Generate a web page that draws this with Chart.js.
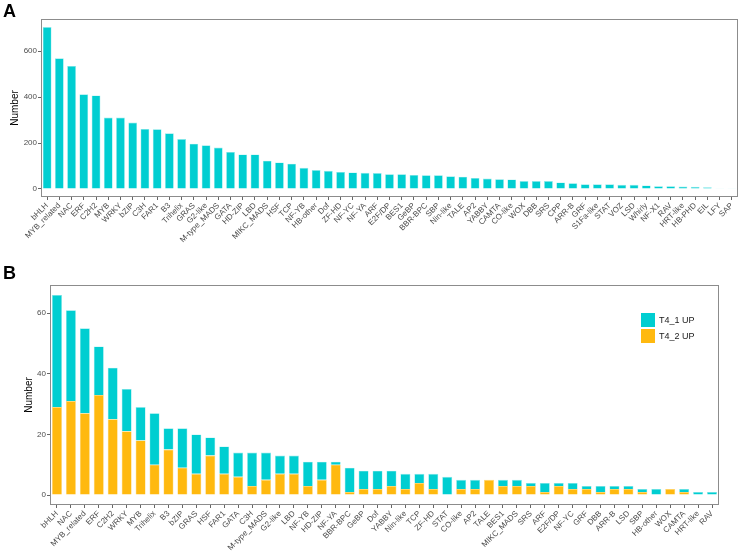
<!DOCTYPE html>
<html>
<head>
<meta charset="utf-8">
<script src="https://cdn.jsdelivr.net/npm/chart.js@4"></script>
<style>
  html, body { margin: 0; padding: 0; background: #fff; }
  #wrap { position: relative; width: 740px; height: 554px; overflow: hidden; }
  .panel { position: absolute; left: 0; width: 740px; }
  .tag { position: absolute; left: 3px; font: bold 18px 'Liberation Sans', Arial, sans-serif; line-height: 18px; color: #000; z-index: 2; }
</style>
</head>
<body>
<div id="wrap">
  <div class="panel" style="top:0;height:262px"><canvas id="chartA"></canvas></div>
  <div class="panel" style="top:262px;height:292px"><canvas id="chartB"></canvas></div>
  <div class="tag" style="top:2px">A</div>
  <div class="tag" style="top:264px">B</div>
</div>
<script>
// Panel A : nombre de membres par famille
const familiesA = ['bHLH', 'MYB_related', 'NAC', 'ERF', 'C2H2', 'MYB', 'WRKY', 'bZIP', 'C3H', 'FAR1',
  'B3', 'Trihelix', 'GRAS', 'G2-like', 'M-type_MADS', 'GATA', 'HD-ZIP', 'LBD', 'MIKC_MADS', 'HSF',
  'TCP', 'NF-YB', 'HB-other', 'Dof', 'ZF-HD', 'NF-YC', 'NF-YA', 'ARF', 'E2F/DP', 'BES1',
  'GeBP', 'BBR-BPC', 'SBP', 'Nin-like', 'TALE', 'AP2', 'YABBY', 'CAMTA', 'CO-like', 'WOX',
  'DBB', 'SRS', 'CPP', 'ARR-B', 'GRF', 'S1Fa-like', 'STAT', 'VOZ', 'LSD', 'Whirly',
  'NF-X1', 'RAV', 'HRT-like', 'HB-PHD', 'EIL', 'LFY', 'SAP'];
const countsA = [705, 569, 536, 412, 407, 311, 311, 289, 261, 260,
  242, 217, 197, 190, 180, 161, 150, 150, 123, 115,
  110, 92, 82, 79, 74, 72, 70, 69, 64, 64,
  61, 60, 60, 55, 53, 48, 45, 42, 41, 34,
  34, 34, 28, 25, 20, 20, 20, 18, 18, 15,
  12, 12, 10, 9, 7, 1, 1];
const ticksA = [0, 200, 400, 600];

// Panel B : familles des gènes UP
const familiesB = ['bHLH', 'NAC', 'MYB_related', 'ERF', 'C2H2', 'WRKY', 'MYB', 'Trihelix', 'B3', 'bZIP',
  'GRAS', 'HSF', 'FAR1', 'GATA', 'C3H', 'M-type_MADS', 'G2-like', 'LBD', 'NF-YB', 'HD-ZIP',
  'NF-YA', 'BBR-BPC', 'GeBP', 'Dof', 'YABBY', 'Nin-like', 'TCP', 'ZF-HD', 'STAT', 'CO-like',
  'AP2', 'TALE', 'BES1', 'MIKC_MADS', 'SRS', 'ARF', 'E2F/DP', 'NF-YC', 'GRF', 'DBB',
  'ARR-B', 'LSD', 'SBP', 'HB-other', 'WOX', 'CAMTA', 'HRT-like', 'RAV'];
const upT4_1 = [37, 30, 28, 16, 17, 14, 11, 17, 7, 13,
  13, 6, 9, 8, 11, 9, 6, 6, 8, 6,
  1, 8, 6, 6, 5, 5, 3, 5, 6, 3,
  3, 0, 2, 2, 1, 3, 1, 2, 1, 2,
  1, 1, 1, 2, 0, 1, 1, 1];
const upT4_2 = [29, 31, 27, 33, 25, 21, 18, 10, 15, 9,
  7, 13, 7, 6, 3, 5, 7, 7, 3, 5,
  10, 1, 2, 2, 3, 2, 4, 2, 0, 2,
  2, 5, 3, 3, 3, 1, 3, 2, 2, 1,
  2, 2, 1, 0, 2, 1, 0, 0];
const ticksB = [0, 20, 40, 60];

const cyan = '#00CED1';
const orange = '#FFB90F';

Chart.defaults.font.family = "'Liberation Sans', Arial, sans-serif";
Chart.defaults.animation = false;

// cadre gris autour de la zone de tracé
const frame = {
  id: 'frame',
  afterDraw(chart) {
    const a = chart.chartArea, c = chart.ctx;
    c.save();
    c.strokeStyle = '#8c8c8c';
    c.lineWidth = 1;
    c.strokeRect(Math.round(a.left) + 0.5, Math.round(a.top) + 0.5,
      Math.round(a.right - a.left) - 1, Math.round(a.bottom - a.top) - 1);
    c.restore();
  }
};

// légende dans le coin haut droit
const insideLegend = {
  id: 'insideLegend',
  afterDraw(chart) {
    const a = chart.chartArea, c = chart.ctx;
    const items = chart.data.datasets.slice().reverse();
    const x = a.right - 78, y = a.top + 28;
    c.save();
    c.font = "9px 'Liberation Sans', Arial, sans-serif";
    c.textBaseline = 'middle';
    items.forEach((d, i) => {
      const yy = y + i * 16;
      c.fillStyle = d.backgroundColor;
      c.fillRect(x, yy, 14, 14);
      c.fillStyle = '#1a1a1a';
      c.fillText(d.label, x + 18, yy + 7.5);
    });
    c.restore();
  }
};

function scales(yWidth, xHeight, yMin, yMax, yTicks, titlePad) {
  return {
    x: {
      stacked: true,
      grid: { drawOnChartArea: false, offset: false, tickLength: 3, color: '#666' },
      border: { display: false },
      ticks: { autoSkip: false, minRotation: 45, maxRotation: 45, padding: 1, color: '#4d4d4d', font: { size: 8 } },
      afterFit: s => { s.height = xHeight; }
    },
    y: {
      stacked: true,
      min: yMin,
      max: yMax,
      grid: { drawOnChartArea: false, tickLength: 3, color: '#666' },
      border: { display: false },
      ticks: { padding: 1, color: '#4d4d4d', font: { size: 8 } },
      afterBuildTicks: s => { s.ticks = yTicks.map(v => ({ value: v })); },
      title: { display: true, text: 'Number', color: '#000', font: { size: 10 }, padding: { top: titlePad, bottom: 0 } },
      afterFit: s => { s.width = yWidth; }
    }
  };
}

new Chart(document.getElementById('chartA'), {
  type: 'bar',
  data: {
    labels: familiesA,
    datasets: [{
      label: 'Number',
      data: countsA,
      backgroundColor: cyan,
      borderColor: '#8fe9ea',
      borderWidth: 0.6,
      barPercentage: 0.72,
      categoryPercentage: 1
    }]
  },
  options: {
    responsive: true,
    maintainAspectRatio: false,
    layout: { padding: { left: 0, right: 2, top: 19, bottom: 0 } },
    plugins: { legend: { display: false }, tooltip: { enabled: false } },
    scales: scales(41, 65, -35.25, 740.25, ticksA, 9)
  },
  plugins: [frame]
});

new Chart(document.getElementById('chartB'), {
  type: 'bar',
  data: {
    labels: familiesB,
    datasets: [{
      label: 'T4_2 UP',
      data: upT4_2,
      backgroundColor: orange,
      borderColor: '#ffd77a',
      borderWidth: 0.6,
      barPercentage: 0.72,
      categoryPercentage: 1
    }, {
      label: 'T4_1 UP',
      data: upT4_1,
      backgroundColor: cyan,
      borderColor: '#8fe9ea',
      borderWidth: 0.6,
      barPercentage: 0.72,
      categoryPercentage: 1
    }]
  },
  options: {
    responsive: true,
    maintainAspectRatio: false,
    layout: { padding: { left: 0, right: 21, top: 23, bottom: 0 } },
    plugins: { legend: { display: false }, tooltip: { enabled: false } },
    scales: scales(50, 49, -3.3, 69.3, ticksB, 23)
  },
  plugins: [frame, insideLegend]
});
</script>
</body>
</html>
